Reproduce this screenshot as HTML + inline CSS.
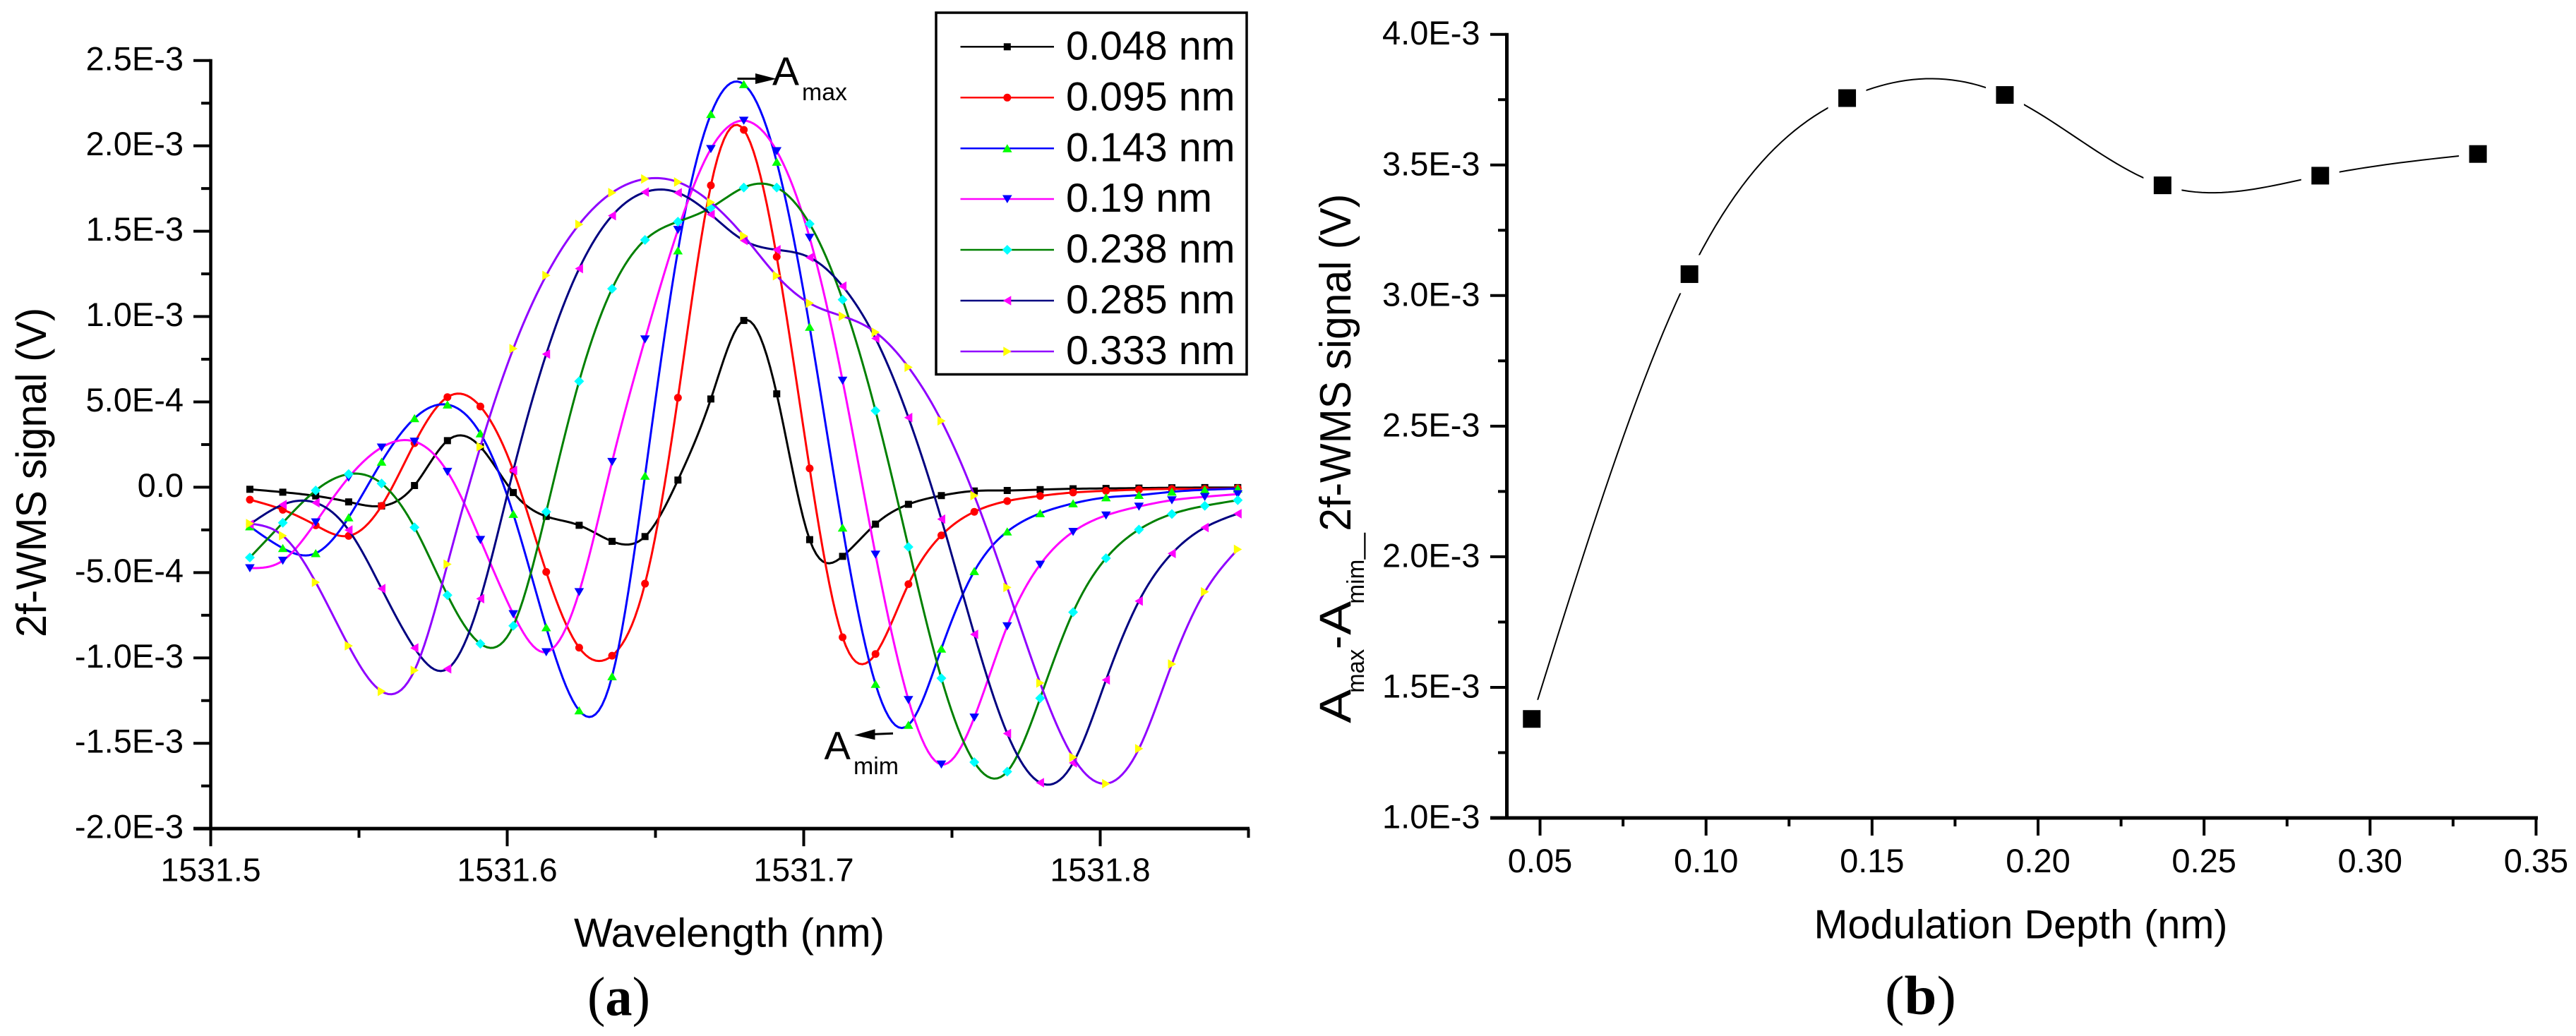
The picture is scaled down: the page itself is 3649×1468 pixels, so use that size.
<!DOCTYPE html>
<html lang="en">
<head>
<meta charset="utf-8">
<title>2f-WMS signal charts</title>
<style>
html,body{margin:0;padding:0;background:#fff;}
body{width:3649px;height:1468px;overflow:hidden;}
svg{display:block;}
text{font-family:"Liberation Sans",Arial,sans-serif;fill:#000;}
.serif{font-family:"Liberation Serif","Times New Roman",serif;}
</style>
</head>
<body>
<svg id="figure" xmlns="http://www.w3.org/2000/svg" width="3649" height="1468" viewBox="0 0 3649 1468">
  <rect x="0" y="0" width="3649" height="1468" fill="#fff"/>

  <g id="panel-a">
    <g id="a-axes"></g>
    <g id="a-series"></g>
    <text transform="translate(65,903) rotate(-90)" font-size="60" textLength="467" lengthAdjust="spacingAndGlyphs">2f-WMS signal (V)</text>
    <text x="813" y="1341.5" font-size="57.5" textLength="440" lengthAdjust="spacingAndGlyphs">Wavelength (nm)</text>

    <g id="legend">
      <rect x="1326" y="18" width="440" height="512.5" fill="#fff" stroke="#000" stroke-width="3.5"/>
      <g><line x1="1360.5" x2="1493" y1="66.3" y2="66.3" stroke="#000000" stroke-width="2.5"/><text x="1510" y="84.5" font-size="57.5" textLength="239.5" lengthAdjust="spacingAndGlyphs">0.048 nm</text></g>
      <g><line x1="1360.5" x2="1493" y1="138.3" y2="138.3" stroke="#ff0000" stroke-width="2.5"/><text x="1510" y="156.5" font-size="57.5" textLength="239.5" lengthAdjust="spacingAndGlyphs">0.095 nm</text></g>
      <g><line x1="1360.5" x2="1493" y1="210.2" y2="210.2" stroke="#0000ff" stroke-width="2.5"/><text x="1510" y="228.4" font-size="57.5" textLength="239.5" lengthAdjust="spacingAndGlyphs">0.143 nm</text></g>
      <g><line x1="1360.5" x2="1493" y1="282" y2="282" stroke="#ff00ff" stroke-width="2.5"/><text x="1510" y="300.2" font-size="57.5" textLength="207" lengthAdjust="spacingAndGlyphs">0.19 nm</text></g>
      <g><line x1="1360.5" x2="1493" y1="354" y2="354" stroke="#008000" stroke-width="2.5"/><text x="1510" y="372.2" font-size="57.5" textLength="239.5" lengthAdjust="spacingAndGlyphs">0.238 nm</text></g>
      <g><line x1="1360.5" x2="1493" y1="426" y2="426" stroke="#000080" stroke-width="2.5"/><text x="1510" y="444.2" font-size="57.5" textLength="239.5" lengthAdjust="spacingAndGlyphs">0.285 nm</text></g>
      <g><line x1="1360.5" x2="1493" y1="498" y2="498" stroke="#9000ff" stroke-width="2.5"/><text x="1510" y="516.2" font-size="57.5" textLength="239.5" lengthAdjust="spacingAndGlyphs">0.333 nm</text></g>
    </g>

    <g>
      <line x1="1044.5" y1="111.5" x2="1075" y2="111.5" stroke="#000" stroke-width="3"/>
      <polygon points="1070,104 1100,111.7 1070,119" fill="#000"/>
      <text x="1094" y="120.5" font-size="57">A</text>
      <text x="1136" y="142" font-size="34" textLength="64" lengthAdjust="spacingAndGlyphs">max</text>
    </g>
    <g>
      <line x1="1265" y1="1039.3" x2="1235" y2="1040.5" stroke="#000" stroke-width="3"/>
      <polygon points="1239.5,1033.3 1210,1041.7 1239.5,1048.3" fill="#000"/>
      <text x="1167.5" y="1075.5" font-size="56">A</text>
      <text x="1209" y="1097" font-size="34" textLength="64" lengthAdjust="spacingAndGlyphs">mim</text>
    </g>
    <text class="serif" x="832" y="1438.5" font-size="78" textLength="89" lengthAdjust="spacingAndGlyphs">(<tspan font-weight="bold">a</tspan>)</text>
  </g>

  <g id="panel-b">
    <g id="b-axes"></g>
    <g id="b-series"></g>
    <g transform="translate(1913,1024.7) rotate(-90)">
      <text x="0" y="0" font-size="63" textLength="48" lengthAdjust="spacingAndGlyphs">A</text>
      <text x="43" y="19" font-size="34" textLength="62" lengthAdjust="spacingAndGlyphs">max</text>
      <text x="105" y="0" font-size="62" textLength="19" lengthAdjust="spacingAndGlyphs">-</text>
      <text x="125" y="0" font-size="63" textLength="48" lengthAdjust="spacingAndGlyphs">A</text>
      <text x="169" y="19" font-size="34" textLength="63" lengthAdjust="spacingAndGlyphs">mim</text>
      <text x="232" y="29" font-size="34" textLength="38" lengthAdjust="spacingAndGlyphs">—</text>
      <text x="272" y="0" font-size="62" textLength="478" lengthAdjust="spacingAndGlyphs">2f-WMS signal (V)</text>
    </g>
    <text x="2569.5" y="1329.5" font-size="57.5" textLength="586" lengthAdjust="spacingAndGlyphs">Modulation Depth (nm)</text>
    <text class="serif" x="2670" y="1437" font-size="78" textLength="101" lengthAdjust="spacingAndGlyphs">(<tspan font-weight="bold">b</tspan>)</text>
  </g>
</svg>

<script>
// ---------- Panel (a) data: wavelength sample grid + 2f-WMS signal in units of 1E-3 V ----------
const wavelengthStart = 1531.5132;
const wavelengthStep = 0.011106;
const seriesNames = ["0.048 nm", "0.095 nm", "0.143 nm", "0.19 nm", "0.238 nm", "0.285 nm", "0.333 nm"];
const series048 = [-0.012,-0.029,-0.051,-0.086,-0.110,0.010,0.273,0.237,-0.031,-0.171,-0.223,-0.317,-0.289,0.042,0.517,0.977,0.547,-0.307,-0.405,-0.216,-0.100,-0.049,-0.022,-0.019,-0.014,-0.009,-0.007,-0.005,-0.003,-0.002,-0.002];
const series095 = [-0.073,-0.132,-0.223,-0.285,-0.109,0.258,0.528,0.473,0.098,-0.496,-0.940,-0.987,-0.565,0.524,1.768,2.094,1.350,0.110,-0.879,-0.977,-0.568,-0.282,-0.144,-0.081,-0.051,-0.031,-0.021,-0.014,-0.010,-0.010,-0.006];
const series143 = [-0.230,-0.357,-0.387,-0.177,0.149,0.404,0.484,0.315,-0.157,-0.821,-1.308,-1.108,0.067,1.387,2.186,2.361,1.906,0.939,-0.237,-1.153,-1.393,-0.946,-0.492,-0.260,-0.153,-0.095,-0.060,-0.046,-0.027,-0.015,-0.008];
const series190 = [-0.474,-0.430,-0.205,0.057,0.233,0.268,0.091,-0.308,-0.743,-0.966,-0.614,0.149,0.867,1.508,1.982,2.148,1.970,1.462,0.625,-0.394,-1.246,-1.624,-1.349,-0.814,-0.453,-0.261,-0.165,-0.113,-0.076,-0.056,-0.040];
const series238 = [-0.412,-0.208,-0.019,0.077,0.022,-0.235,-0.632,-0.917,-0.812,-0.144,0.621,1.163,1.449,1.556,1.638,1.756,1.756,1.543,1.099,0.448,-0.350,-1.119,-1.611,-1.666,-1.236,-0.732,-0.416,-0.248,-0.157,-0.109,-0.076];
const series285 = [-0.217,-0.102,-0.091,-0.251,-0.594,-0.942,-1.064,-0.653,0.098,0.780,1.281,1.591,1.729,1.725,1.598,1.446,1.391,1.346,1.178,0.872,0.408,-0.187,-0.862,-1.443,-1.731,-1.615,-1.129,-0.667,-0.388,-0.236,-0.155];
const series333 = [-0.213,-0.284,-0.557,-0.929,-1.196,-1.073,-0.451,0.237,0.812,1.241,1.540,1.726,1.806,1.788,1.669,1.472,1.239,1.078,1.002,0.908,0.703,0.389,-0.049,-0.587,-1.147,-1.582,-1.737,-1.532,-1.036,-0.613,-0.364];

const aYTickValues = [2.5, 2.0, 1.5, 1.0, 0.5, 0, -0.5, -1.0, -1.5, -2.0];
const aYTickLabels = ["2.5E-3", "2.0E-3", "1.5E-3", "1.0E-3", "5.0E-4", "0.0", "-5.0E-4", "-1.0E-3", "-1.5E-3", "-2.0E-3"];
const aYMinorValues = [2.25, 1.75, 1.25, 0.75, 0.25, -0.25, -0.75, -1.25, -1.75];
const aXTickValues = [1531.5, 1531.6, 1531.7, 1531.8];
const aXTickLabels = ["1531.5", "1531.6", "1531.7", "1531.8"];
const aXMinorValues = [1531.55, 1531.65, 1531.75, 1531.85];

// ---------- Panel (b) data ----------
const depthValues = [0.0475, 0.095, 0.1425, 0.19, 0.2375, 0.285, 0.3325];
const amplitudeValues = [1.379, 3.082, 3.756, 3.768, 3.422, 3.459, 3.542];
const bYTickValues = [4.0, 3.5, 3.0, 2.5, 2.0, 1.5, 1.0];
const bYTickLabels = ["4.0E-3", "3.5E-3", "3.0E-3", "2.5E-3", "2.0E-3", "1.5E-3", "1.0E-3"];
const bYMinorValues = [3.75, 3.25, 2.75, 2.25, 1.75, 1.25];
const bXTickValues = [0.05, 0.10, 0.15, 0.20, 0.25, 0.30, 0.35];
const bXTickLabels = ["0.05", "0.10", "0.15", "0.20", "0.25", "0.30", "0.35"];
const bXMinorValues = [0.075, 0.125, 0.175, 0.225, 0.275, 0.325];

// ---------- Axis functions ----------
const aX = v => 298.5 + (v - 1531.5) * 4200;
const aY = v => 690.4 - v * 241.86;
const bX = v => 2134.5 + (v - 0.04) * 4703;
const bY = v => 1159 - (v - 1) * 370.1;

const NS = "http://www.w3.org/2000/svg";
function make(tag, attrs, parent) {
  const el = document.createElementNS(NS, tag);
  for (const k in attrs) el.setAttribute(k, attrs[k]);
  parent.appendChild(el);
  return el;
}

// Natural cubic spline through the points, sampled for a smooth path
function splinePath(xs, ys, samples) {
  const n = xs.length;
  const m = new Array(n).fill(0), u = new Array(n).fill(0);
  for (let i = 1; i < n - 1; i++) {
    const sig = (xs[i] - xs[i-1]) / (xs[i+1] - xs[i-1]);
    const p = sig * m[i-1] + 2;
    m[i] = (sig - 1) / p;
    const d = (ys[i+1]-ys[i])/(xs[i+1]-xs[i]) - (ys[i]-ys[i-1])/(xs[i]-xs[i-1]);
    u[i] = (6 * d / (xs[i+1]-xs[i-1]) - sig * u[i-1]) / p;
  }
  for (let i = n - 2; i >= 0; i--) m[i] = m[i] * m[i+1] + u[i];
  let d = "M" + xs[0].toFixed(2) + " " + ys[0].toFixed(2);
  for (let i = 0; i < n - 1; i++) {
    const h = xs[i+1] - xs[i];
    for (let s = 1; s <= samples; s++) {
      const x = xs[i] + h * s / samples;
      const a = (xs[i+1] - x) / h, b = (x - xs[i]) / h;
      const y = a*ys[i] + b*ys[i+1] + ((a*a*a - a)*m[i] + (b*b*b - b)*m[i+1]) * h*h/6;
      d += "L" + x.toFixed(2) + " " + y.toFixed(2);
    }
  }
  return d;
}

function marker(shape, x, y, fill, parent) {
  const pts = (arr) => arr.map(p => (x + p[0]).toFixed(2) + "," + (y + p[1]).toFixed(2)).join(" ");
  if (shape === "square") return make("rect", {x: x - 5, y: y - 5, width: 10, height: 10, fill: fill}, parent);
  if (shape === "circle") return make("circle", {cx: x, cy: y, r: 5.5, fill: fill}, parent);
  if (shape === "up") return make("polygon", {points: pts([[-6.8,5.5],[6.8,5.5],[0,-6]]), fill: fill}, parent);
  if (shape === "down") return make("polygon", {points: pts([[-6.8,-5.5],[6.8,-5.5],[0,6]]), fill: fill}, parent);
  if (shape === "diamond") return make("polygon", {points: pts([[-7,0],[0,-7],[7,0],[0,7]]), fill: fill}, parent);
  if (shape === "left") return make("polygon", {points: pts([[5.5,-6.8],[5.5,6.8],[-6,0]]), fill: fill}, parent);
  return make("polygon", {points: pts([[-5.5,-6.8],[-5.5,6.8],[6,0]]), fill: fill}, parent);
}

// ---------- Panel (a) axes ----------
const aAxes = document.getElementById("a-axes");
const aYAxis = make("line", {x1: 298.5, x2: 298.5, y1: aY(2.5) - 2, y2: aY(-2) + 2, stroke: "#000", "stroke-width": 4.5}, aAxes);


const aXAxis = make("line", {x1: 274, x2: 1770, y1: aY(-2), y2: aY(-2), stroke: "#000", "stroke-width": 5}, aAxes);



aYTickValues.forEach((v, i) => {
  const t = make("line", {x1: 274, x2: 298, y1: aY(v), y2: aY(v), stroke: "#000", "stroke-width": 4}, aAxes);
  
  
  const l = make("text", {x: 260, y: aY(v) + 13.5, "text-anchor": "end", "font-size": 47}, aAxes);
  l.textContent = aYTickLabels[i];
  
  
});
aYMinorValues.forEach(v => {
  const t = make("line", {x1: 285, x2: 298, y1: aY(v), y2: aY(v), stroke: "#000", "stroke-width": 4}, aAxes);
  
  
});
aXTickValues.forEach((v, i) => {
  const t = make("line", {x1: aX(v), x2: aX(v), y1: aY(-2), y2: aY(-2) + 25, stroke: "#000", "stroke-width": 4}, aAxes);
  
  
  const l = make("text", {x: aX(v), y: 1248.5, "text-anchor": "middle", "font-size": 46.5}, aAxes);
  l.textContent = aXTickLabels[i];
  
  
});
aXMinorValues.forEach(v => {
  const t = make("line", {x1: aX(v), x2: aX(v), y1: aY(-2), y2: aY(-2) + 13, stroke: "#000", "stroke-width": 4}, aAxes);
  
  
});

// ---------- Panel (a) series ----------
const allSeries = [series048, series095, series143, series190, series238, series285, series333];
const lineColors = ["#000000", "#ff0000", "#0000ff", "#ff00ff", "#008000", "#000080", "#9000ff"];
const markerColors = ["#000000", "#ff0000", "#00ff00", "#0000ff", "#00ffff", "#ff00ff", "#ffff00"];
const markerShapes = ["square", "circle", "up", "down", "diamond", "left", "right"];
const legendY = [66.3, 138.3, 210.2, 282, 354, 426, 498];
const aSeriesGroup = document.getElementById("a-series");
const legendGroup = document.getElementById("legend");

allSeries.forEach((vals, s) => {
  const g = make("g", {}, aSeriesGroup);
  
  
  const xs = vals.map((_, i) => aX(wavelengthStart + wavelengthStep * i));
  const ys = vals.map(v => aY(v));
  const line = make("path", {d: splinePath(xs, ys, 10), fill: "none", stroke: lineColors[s], "stroke-width": 3, "stroke-linejoin": "round"}, g);
  
  
  xs.forEach((x, i) => {
    const m = marker(markerShapes[s], x, ys[i], markerColors[s], g);
    
    
  });
  const lm = marker(markerShapes[s], 1426.8, legendY[s], markerColors[s], legendGroup);
  
  
});

// ---------- Panel (b) axes ----------
const bAxes = document.getElementById("b-axes");
const bYAxis = make("line", {x1: 2134.5, x2: 2134.5, y1: bY(4) - 2, y2: bY(1) + 2, stroke: "#000", "stroke-width": 5}, bAxes);


const bXAxis = make("line", {x1: 2111, x2: 3595, y1: bY(1), y2: bY(1), stroke: "#000", "stroke-width": 5}, bAxes);



bYTickValues.forEach((v, i) => {
  const t = make("line", {x1: 2111, x2: 2134, y1: bY(v), y2: bY(v), stroke: "#000", "stroke-width": 4}, bAxes);
  
  
  const l = make("text", {x: 2096.5, y: bY(v) + 14.5, "text-anchor": "end", "font-size": 47}, bAxes);
  l.textContent = bYTickLabels[i];
  
  
});
bYMinorValues.forEach(v => {
  const t = make("line", {x1: 2122, x2: 2134, y1: bY(v), y2: bY(v), stroke: "#000", "stroke-width": 4}, bAxes);
  
  
});
bXTickValues.forEach((v, i) => {
  const t = make("line", {x1: bX(v), x2: bX(v), y1: bY(1), y2: bY(1) + 25, stroke: "#000", "stroke-width": 4}, bAxes);
  
  
  const l = make("text", {x: bX(v), y: 1236, "text-anchor": "middle", "font-size": 47}, bAxes);
  l.textContent = bXTickLabels[i];
  
  
});
bXMinorValues.forEach(v => {
  const t = make("line", {x1: bX(v), x2: bX(v), y1: bY(1), y2: bY(1) + 12, stroke: "#000", "stroke-width": 4}, bAxes);
  
  
});

// ---------- Panel (b) series ----------
const bSeriesGroup = document.getElementById("b-series");
const bXs = depthValues.map(bX);
const bYs = amplitudeValues.map(bY);
const bLine = make("path", {d: splinePath(bXs, bYs, 24), fill: "none", stroke: "#000", "stroke-width": 2}, bSeriesGroup);


bXs.forEach((x, i) => {
  const gap = make("rect", {x: x - 27, y: bYs[i] - 27, width: 54, height: 54, fill: "#fff"}, bSeriesGroup);
  
  
  const m = make("rect", {x: x - 12.5, y: bYs[i] - 12.5, width: 25, height: 25, fill: "#000"}, bSeriesGroup);
  
  
});
</script>
</body>
</html>
